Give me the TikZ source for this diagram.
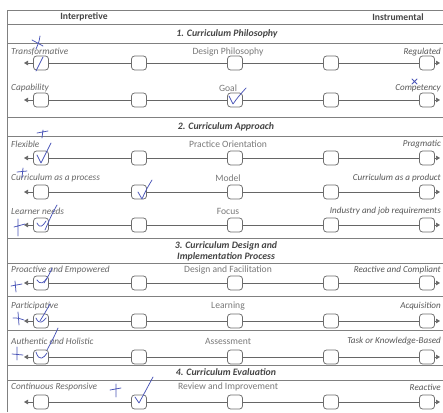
\documentclass[tikz,border=0pt]{standalone}
\usepackage{fontspec}
\setmainfont{Carlito}
\usetikzlibrary{arrows.meta}
\definecolor{inkgray}{HTML}{676767}
\definecolor{midgray}{HTML}{7A7A7A}
\definecolor{headgray}{HTML}{454545}
\definecolor{rulegray}{HTML}{808080}
\definecolor{pen}{HTML}{4A55B8}
\tikzset{
  box/.style={draw=rulegray!85!black, line width=0.75pt, rounded corners=3pt,
    minimum width=15pt, minimum height=14pt, inner sep=0pt, fill=white},
  link/.style={draw=rulegray!80!black, line width=0.65pt},
  tip/.style={link, -{Triangle[length=4pt,width=4.5pt]}},
  rule/.style={draw=rulegray, line width=0.65pt},
  lefttxt/.style={anchor=west, text=inkgray, font=\fontsize{9.3}{11}\selectfont\itshape, inner sep=0pt},
  midtxt/.style={anchor=center, text=midgray, font=\fontsize{9.6}{11}\selectfont, inner sep=0pt},
  righttxt/.style={anchor=east, text=inkgray!85!black, font=\fontsize{9.1}{11}\selectfont\itshape, inner sep=0pt},
  headtxt/.style={text=headgray, font=\fontsize{9.6}{11}\selectfont\bfseries, inner sep=0pt},
  secttxt/.style={text=headgray, font=\fontsize{9.8}{11}\selectfont\bfseries\itshape, inner sep=0pt, align=center},
  penmark/.style={draw=pen, line width=0.75pt, line cap=round, line join=round}
}
\begin{document}
\begin{tikzpicture}[x=1pt,y=-1pt]
\useasboundingbox[fill=white] (0,0) rectangle (443,412);

% frame and horizontal rules
\draw[rule] (7,412) -- (7,10) -- (443,10);
\foreach \yy in {24,43,117,136,238,263,296,330,365,380}
  \draw[rule] (7,\yy) -- (443,\yy);

% column headers
\node[headtxt] (hleft) at (84,17) {Interpretive};
\node[headtxt] (hright) at (398,17) {Instrumental};

% section titles
\node[secttxt] (s1) at (227,34) {1. Curriculum Philosophy};
\node[secttxt] (s2) at (226,126.5) {2. Curriculum Approach};
\node[secttxt, font=\fontsize{9.8}{11}\selectfont\bfseries\itshape] (s3) at (226,251) {3. Curriculum Design and\\Implementation Process};
\node[secttxt] (s4) at (226,372.5) {4. Curriculum Evaluation};

% scale rows: row / box y / label y / left / middle / right
\foreach \r/\y/\ly/\lt/\mt/\rt in {
  1/63/52/{Transformative}/{Design Philosophy}/{Regulated},
  2/100/88/{Capability}/{Goal}/{Competency},
  3/158/144/{Flexible}/{Practice Orientation}/{Pragmatic},
  4/192/178/{Curriculum as a process}/{Model}/{Curriculum as a product},
  5/225/211/{Learner needs}/{Focus}/{Industry and job requirements},
  6/283/270/{Proactive and Empowered}/{Design and Facilitation}/{Reactive and Compliant},
  7/321/306/{Participative}/{Learning}/{Acquisition},
  8/357/341/{Authentic and Holistic}/{Assessment}/{Task or Knowledge-Based},
  9/402/387/{Continuous Responsive}/{Review and Improvement}/{Reactive}}
{
  \node[lefttxt] (lt\r) at (11,\ly) {\lt};
  \node[midtxt] (mt\r) at (228,\ly) {\mt};
  \node[righttxt] (rt\r) at (441,\ly) {\rt};
  \coordinate (L\r) at (24,\y);
  \coordinate (R\r) at (440,\y);
  \node[box] (b\r-1) at (41,\y) {};
  \node[box] (b\r-2) at (139,\y) {};
  \node[box] (b\r-3) at (235,\y) {};
  \node[box] (b\r-4) at (331,\y) {};
  \node[box] (b\r-5) at (427,\y) {};
  \draw[link] (b\r-1) -- (b\r-2);
  \draw[link] (b\r-2) -- (b\r-3);
  \draw[link] (b\r-3) -- (b\r-4);
  \draw[link] (b\r-4) -- (b\r-5);
  \draw[tip] (b\r-1) -- (L\r);
  \draw[tip] (b\r-5) -- (R\r);
}

% handwritten ticks and crosses
% row 1
\draw[penmark] (36,71) -- (43,57);
\draw[penmark] (32,40) -- (43,46);
\draw[penmark] (40,36) .. controls (39,42) .. (36,49);
% row 2
\draw[penmark] (229,96) -- (233,104) .. controls (238,97) .. (246,88);
\draw[penmark] (412,79) -- (417,84) (417,79) -- (412,84);
% row 3
\draw[penmark] (43,130) -- (42,138) (37,133) .. controls (42,132) .. (48,131);
\draw[penmark] (37,155) -- (41,163) .. controls (45,155) .. (51,143);
% row 4
\draw[penmark] (23,168) -- (22,178) (17,172) -- (27,171);
\draw[penmark] (138,192) -- (142,199) .. controls (146,190) .. (152,180);
% row 5
\draw[penmark] (57,205) .. controls (52,214) .. (45,230);
\draw[penmark] (37,223) .. controls (40,229) and (43,226) .. (46,221);
\draw[penmark] (18,219) -- (18,236) (14,227) .. controls (19,226) .. (25,224);
% row 6
\draw[penmark] (52,268) .. controls (49,275) .. (44,283);
\draw[penmark] (37,280) .. controls (40,285) and (44,283) .. (47,278);
\draw[penmark] (15,281) -- (16,292) (11,286) .. controls (16,285) .. (22,284);
% row 7
\draw[penmark] (50,304) .. controls (46,311) .. (40,321);
\draw[penmark] (36,318) .. controls (39,325) and (43,322) .. (46,318);
\draw[penmark] (18,312) -- (19,325) (13,318) .. controls (18,318) .. (24,320);
% row 8
\draw[penmark] (58,328) .. controls (54,337) .. (47,350);
\draw[penmark] (36,352) .. controls (39,362) and (44,358) .. (47,353);
\draw[penmark] (17,347) -- (17,360) (12,354) .. controls (17,354) .. (23,355);
% row 9
\draw[penmark] (116,384) -- (116,397) (110,390) .. controls (115,389) .. (121,388);
\draw[penmark] (135,397) -- (139,403) .. controls (145,392) .. (153,377);
\end{tikzpicture}
\end{document}
